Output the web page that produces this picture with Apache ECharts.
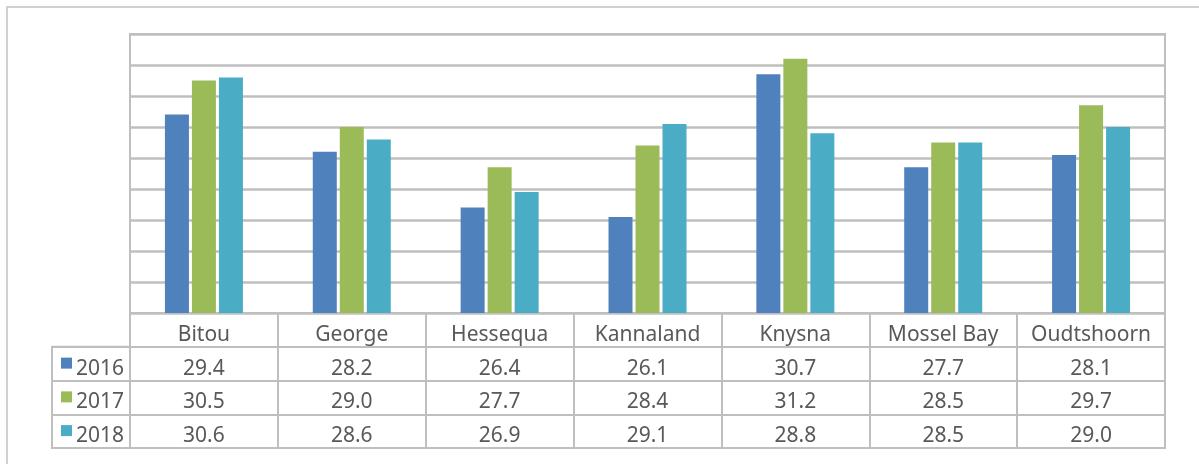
<!DOCTYPE html>
<html>
<head>
<meta charset="utf-8">
<script src="https://cdn.jsdelivr.net/npm/echarts@6/dist/echarts.min.js"></script>
<style>
html,body{margin:0;padding:0;background:#fff;}
#c{width:1199px;height:464px;}
</style>
</head>
<body>
<div id="c"></div>
<script>
const categories = ['Bitou', 'George', 'Hessequa', 'Kannaland', 'Knysna', 'Mossel Bay', 'Oudtshoorn'];
const years = ['2016', '2017', '2018'];
const v2016 = [29.4, 28.2, 26.4, 26.1, 30.7, 27.7, 28.1];
const v2017 = [30.5, 29.0, 27.7, 28.4, 31.2, 28.5, 29.7];
const v2018 = [30.6, 28.6, 26.9, 29.1, 28.8, 28.5, 29.0];
const seriesValues = [v2016, v2017, v2018];
const colors = ['#4f81bd', '#9bbb59', '#4bacc6'];

const FONT = '"Noto Sans", "DejaVu Sans", sans-serif';
const TXT = '#595959';
const LINE = '#bfbfbf';

// table cells: [colIndex, rowIndex, text]
const tableRows = ['cat'].concat(years);
const tableCells = [];
categories.forEach((c, i) => {
  tableCells.push([i, 0, c]);
  seriesValues.forEach((arr, s) => tableCells.push([i, s + 1, arr[i].toFixed(1)]));
});
const legendCells = years.map((y, i) => [0, i, y]);

const chart = echarts.init(document.getElementById('c'), null, {renderer: 'canvas'});

const barSeries = years.map((y, s) => ({
  name: y,
  type: 'bar',
  xAxisIndex: 0,
  yAxisIndex: 0,
  data: seriesValues[s],
  barWidth: 24,
  barGap: '12.5%',
  itemStyle: {color: colors[s]},
  silent: true
}));

const option = {
  animation: false,
  graphic: [{
    type: 'rect',
    shape: {x: 7, y: 7, width: 1260, height: 520},
    style: {fill: 'none', stroke: '#d0d0d0', lineWidth: 2},
    silent: true
  }],
  grid: [
    {left: 130, right: 34, top: 34, height: 279, show: true, borderColor: LINE, borderWidth: 2, backgroundColor: 'transparent'},
    {left: 130, right: 34, top: 313, height: 135, show: true, borderColor: LINE, borderWidth: 2, backgroundColor: 'transparent'},
    {left: 52, width: 78, top: 346.75, height: 101.25, show: true, borderColor: LINE, borderWidth: 2, backgroundColor: 'transparent'}
  ],
  xAxis: [
    {gridIndex: 0, type: 'category', data: categories, axisLine: {show: false}, axisTick: {show: false}, axisLabel: {show: false}, splitLine: {show: false}},
    {gridIndex: 1, type: 'category', data: categories, boundaryGap: true, axisLine: {show: false}, axisTick: {show: false}, axisLabel: {show: false},
      splitLine: {show: true, interval: 0, lineStyle: {color: LINE, width: 2}}},
    {gridIndex: 2, type: 'category', data: ['legend'], boundaryGap: true, axisLine: {show: false}, axisTick: {show: false}, axisLabel: {show: false}, splitLine: {show: false}}
  ],
  yAxis: [
    {gridIndex: 0, type: 'value', min: 23, max: 32, interval: 1, axisLine: {show: false}, axisTick: {show: false}, axisLabel: {show: false},
      splitLine: {show: true, lineStyle: {color: LINE, width: 2.5}}},
    {gridIndex: 1, type: 'category', data: tableRows, inverse: true, boundaryGap: true, axisLine: {show: false}, axisTick: {show: false}, axisLabel: {show: false},
      splitLine: {show: true, interval: 0, lineStyle: {color: LINE, width: 2}}},
    {gridIndex: 2, type: 'category', data: years, inverse: true, boundaryGap: true, axisLine: {show: false}, axisTick: {show: false}, axisLabel: {show: false},
      splitLine: {show: true, interval: 0, lineStyle: {color: LINE, width: 2}}}
  ],
  series: barSeries.concat([
    {
      type: 'custom',
      xAxisIndex: 1,
      yAxisIndex: 1,
      silent: true,
      data: tableCells.map(c => [c[0], c[1]]),
      renderItem: function (params, api) {
        const cell = tableCells[params.dataIndex];
        const p = api.coord([api.value(0), api.value(1)]);
        return {
          type: 'text',
          x: p[0],
          y: p[1] + 5,
          style: {text: cell[2], align: 'center', verticalAlign: 'middle', font: '21px ' + FONT, fill: TXT}
        };
      }
    },
    {
      type: 'custom',
      xAxisIndex: 2,
      yAxisIndex: 2,
      silent: true,
      data: legendCells.map(c => [c[0], c[1]]),
      renderItem: function (params, api) {
        const cell = legendCells[params.dataIndex];
        const p = api.coord([api.value(0), api.value(1)]);
        const sz = api.size([1, 1]);
        const left = p[0] - sz[0] / 2;
        return {
          type: 'group',
          children: [
            {type: 'rect', shape: {x: left + 9, y: p[1] - 6, width: 11, height: 11}, style: {fill: colors[params.dataIndex]}},
            {type: 'text', x: left + 24, y: p[1] + 5, style: {text: cell[2], align: 'left', verticalAlign: 'middle', font: '21px ' + FONT, fill: TXT}}
          ]
        };
      }
    }
  ])
};
chart.setOption(option);
</script>
</body>
</html>
